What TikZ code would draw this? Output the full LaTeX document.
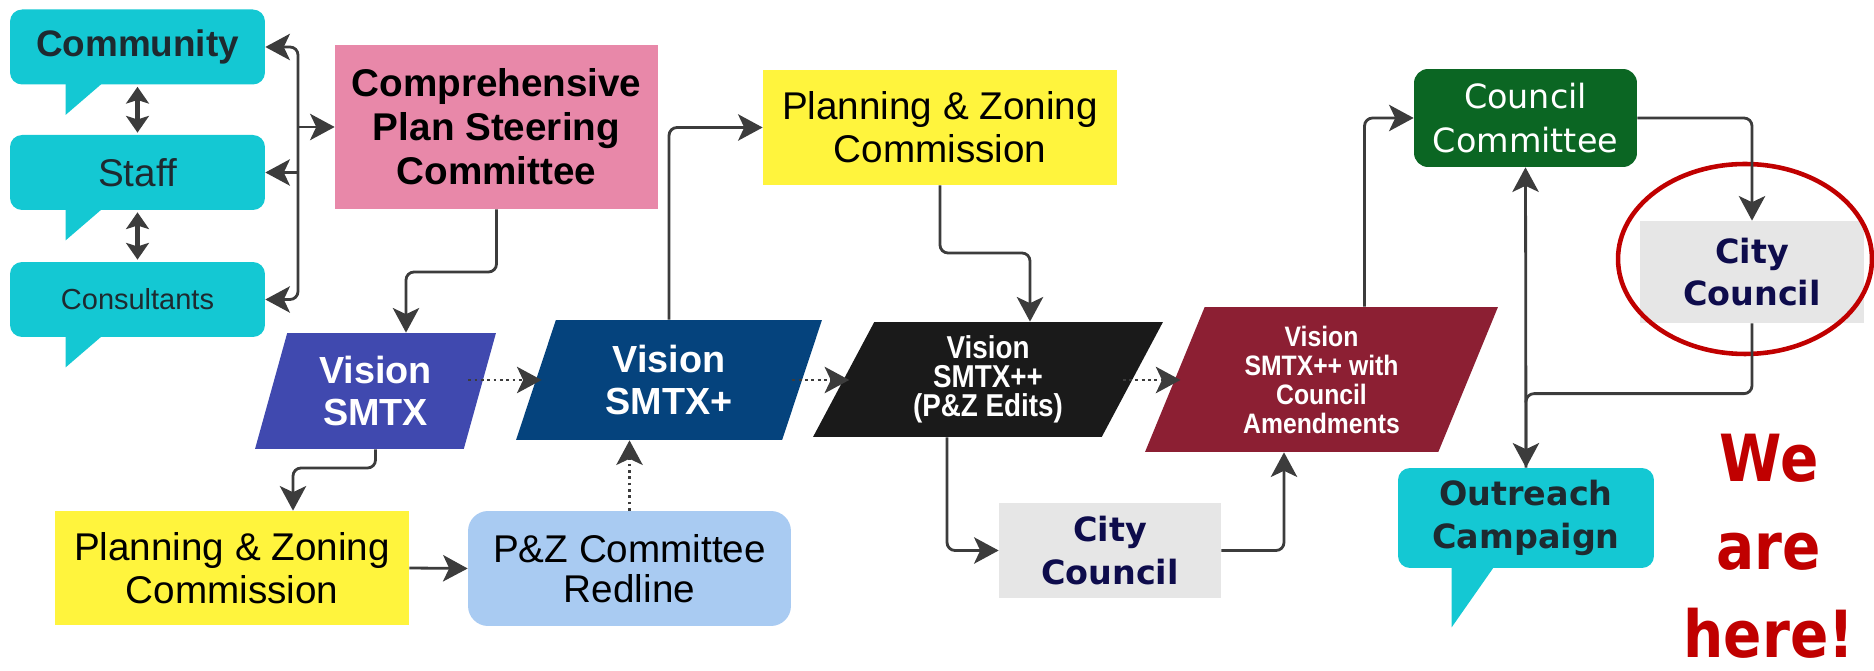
\documentclass[tikz,border=0pt]{standalone}
\usepackage{fontspec}
\setmainfont{Liberation Sans}
\newfontfamily\verd{DejaVu Sans}
\newfontfamily\verdn[FakeStretch=0.87]{DejaVu Sans}
\newfontfamily\narr[FakeStretch=0.88]{Liberation Sans}
\usetikzlibrary{shapes.geometric,arrows.meta,positioning,calc}
\definecolor{bubcyan}{HTML}{14C8D3}
\definecolor{cscpink}{HTML}{E888A9}
\definecolor{visblue}{HTML}{4049AF}
\definecolor{visnavy}{HTML}{05437D}
\definecolor{visblack}{HTML}{1A1A1A}
\definecolor{vismaroon}{HTML}{8C1F33}
\definecolor{pzyellow}{HTML}{FFF43D}
\definecolor{redblue}{HTML}{A9CBF2}
\definecolor{ccgrey}{HTML}{E6E6E6}
\definecolor{ccnavy}{HTML}{0E0C4C}
\definecolor{comgreen}{HTML}{0B6623}
\definecolor{herered}{HTML}{C00000}
\definecolor{conngrey}{HTML}{3C3C3C}
\definecolor{bubtext}{HTML}{1E2A30}
\newcommand{\fsz}[2]{\fontsize{#1}{#2}\selectfont}
\begin{document}
\begin{tikzpicture}[x=0.02cm,y=-0.02cm,line join=round,
    >={Stealth[length=14pt,width=15pt,inset=3.5pt]},
    box/.style={inner sep=0pt,align=center},
    bubble/.style={box,fill=bubcyan,rounded corners=0.24cm,text=bubtext,minimum width=5.1cm,minimum height=1.5cm},
    vision/.style={box,shape=trapezium,trapezium left angle=#1,trapezium right angle=180-#1,trapezium stretches body,text=white},
    conn/.style={draw=conngrey,line width=1.6pt,->,rounded corners=0.16cm},
    bigconn/.style={conn,line width=2.6pt,{Stealth[length=9.5pt,width=13pt,inset=2pt]}-{Stealth[length=9.5pt,width=13pt,inset=2pt]}}]
  \useasboundingbox (0,0) rectangle (1874,671);
  % talking boxes on the left
  \node[bubble,font=\bfseries\fsz{21}{24}] (com) at (137.5,47) {Community};
  \node[bubble,font=\fsz{22}{24}] (staff) at (137.5,172.5) {Staff};
  \node[bubble,font=\fsz{16.5}{20}] (cons) at (137.5,299.5) {Consultants};
  \foreach \b in {com,staff,cons}
    \fill[bubcyan] ($(\b.south west)+(56,-1)$) -- ++(0,31) -- ++(36,-31) -- cycle;
  \node[box,fill=cscpink,minimum width=6.46cm,minimum height=3.28cm,font=\bfseries\fsz{22}{25}] (csc) at (496.5,127) {Comprehensive\\Plan Steering\\Committee};
  % vision documents
  \node[vision=65,fill=visblue,minimum width=4.82cm,minimum height=2.32cm,font=\bfseries\fsz{21.5}{23.5}] (vis1) at (375.5,391) {Vision\\SMTX};
  \node[vision=60,fill=visnavy,minimum width=6.12cm,minimum height=2.4cm,font=\bfseries\fsz{21.5}{23.5}] (vis2) at (669,380) {Vision\\SMTX+};
  \node[vision=55,fill=visblack,minimum width=7cm,minimum height=2.3cm,font=\narr\bfseries\fsz{18}{16.5}] (vis3) at (988,379.5) {Vision\\SMTX++\\(P\&Z Edits)};
  \node[vision=61,fill=vismaroon,minimum width=7.06cm,minimum height=2.9cm,font=\narr\bfseries\fsz{16}{16.5}] (vis4) at (1321.5,379.5) {Vision\\SMTX++ with\\Council\\Amendments};
  % commissions
  \node[box,fill=pzyellow,minimum width=7.08cm,minimum height=2.3cm,font=\fsz{22}{24.5}] (pzc1) at (940,127.5) {Planning \& Zoning\\Commission};
  \node[box,fill=pzyellow,minimum width=7.08cm,minimum height=2.28cm,font=\fsz{22}{24.5}] (pzc2) at (232,568) {Planning \& Zoning\\Commission};
  \node[box,fill=redblue,rounded corners=0.4cm,minimum width=6.46cm,minimum height=2.3cm,font=\fsz{22}{23}] (red) at (629.5,568.5) {P\&Z Committee\\Redline};
  % council
  \node[box,fill=ccgrey,text=ccnavy,minimum width=4.44cm,minimum height=1.9cm,font=\verd\bfseries\fsz{19}{24.4}] (cc1) at (1110,550.5) {City\\Council};
  \node[box,fill=comgreen,text=white,rounded corners=0.28cm,minimum width=4.46cm,minimum height=1.96cm,font=\verd\fsz{19}{25.5}] (ccom) at (1525.5,118) {Council\\Committee};
  \node[box,fill=ccgrey,text=ccnavy,minimum width=4.48cm,minimum height=2.04cm,font=\verd\bfseries\fsz{19}{24.4}] (cc2) at (1752,272) {City\\Council};
  \node[bubble,minimum width=5.12cm,minimum height=2cm,font=\verd\bfseries\fsz{19}{24.4}] (out) at (1526,518) {Outreach\\Campaign};
  \fill[bubcyan] ($(out.south west)+(54,-1)$) -- ++(0,60) -- ++(42,-60) -- cycle;
  \node[draw=herered,line width=2.6pt,ellipse,minimum width=5.08cm,minimum height=3.8cm] (ring) at (1745,259) {};
  \node[box,text=herered,font=\verdn\bfseries\fsz{37}{50}] (here) at (1769,546) {We\\are\\here!};
  % connectors
  \draw[bigconn] ([yshift=-0.04cm]com.south) -- ([yshift=0.04cm]staff.north);
  \draw[bigconn] ([yshift=-0.04cm]staff.south) -- ([yshift=0.04cm]cons.north);
  \coordinate (brk) at (298,0);
  \draw[conn,<->] (com.east) -| (brk |- staff.east) |- (cons.east);
  \draw[conn] (brk |- staff.east) -- (staff.east);
  \draw[conn] (brk |- csc.west) -- (csc.west);
  \coordinate (t1) at (406,272);
  \draw[conn] (csc.south) |- (t1) -- (t1 |- vis1.north);
  \coordinate (dl) at (0,380);
  \draw[conn,dotted] ($(vis1.east |- dl)+(-12,0)$) -- ($(vis2.west |- dl)+(6,0)$);
  \draw[conn,dotted] ($(vis2.east |- dl)+(-10,0)$) -- ($(vis3.west |- dl)+(6,0)$);
  \draw[conn,dotted] ($(vis3.east |- dl)+(-10,0)$) -- ($(vis4.west |- dl)+(6,0)$);
  \draw[conn] (vis2.north) |- (pzc1.west);
  \coordinate (t3) at (1030,253);
  \draw[conn] (pzc1.south) |- (t3) -- (t3 |- vis3.north);
  \coordinate (t5) at (293,468);
  \draw[conn] (vis1.south) |- (t5) -- (t5 |- pzc2.north);
  \draw[conn] (pzc2.east) -- (red.west);
  \draw[conn,dotted] (red.north) -- (red.north |- vis2.south);
  \draw[conn] ($(vis3.south)+(-41,0)$) |- (cc1.west);
  \coordinate (t7) at (1284,0);
  \draw[conn] (cc1.east) -| (t7 |- vis4.south);
  \draw[conn] ($(vis4.north)+(43,0)$) |- (ccom.west);
  \draw[conn] (ccom.east) -| (cc2.north);
  \draw[conn,<->] (ccom.south) -- (out.north);
  \draw[conn,-] (cc2.south) |- ($(out.north)+(0,-74)$) -- (out.north);
\end{tikzpicture}
\end{document}
